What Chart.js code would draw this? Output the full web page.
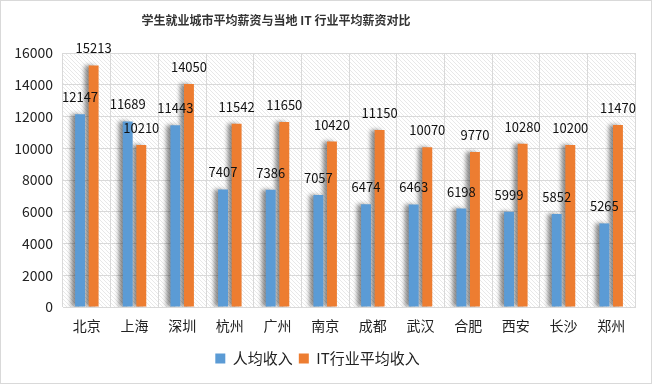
<!DOCTYPE html>
<html>
<head>
<meta charset="utf-8">
<script src="https://cdn.jsdelivr.net/npm/chart.js@4.4.0/dist/chart.umd.min.js"></script>
<style>
  html, body { margin: 0; padding: 0; background: #fff; }
  #wrap { width: 652px; height: 384px; }
</style>
</head>
<body>
<div id="wrap"><canvas id="chart" width="652" height="384"></canvas></div>
<script>
// DATA
const cities = ["北京", "上海", "深圳", "杭州", "广州", "南京", "成都", "武汉", "合肥", "西安", "长沙", "郑州"];
const avgIncome = [12147, 11689, 11443, 7407, 7386, 7057, 6474, 6463, 6198, 5999, 5852, 5265];
const itIncome = [15213, 10210, 14050, 11542, 11650, 10420, 11150, 10070, 9770, 10280, 10200, 11470];
const seriesNames = ["人均收入", "IT行业平均收入"];
const chartTitle = "学生就业城市平均薪资与当地 IT 行业平均薪资对比";

const FONT = "'Noto Sans CJK SC', 'Noto Sans', sans-serif";

// hatch pattern for plot background
function makeHatch() {
    const c = document.createElement("canvas");
    c.width = 4;
    c.height = 4;
    const g = c.getContext("2d");
    g.fillStyle = "#ffffff";
    g.fillRect(0, 0, 4, 4);
    g.strokeStyle = "rgba(0,0,0,0.09)";
    g.lineWidth = 1;
    g.beginPath();
    g.moveTo(-1, -1);
    g.lineTo(5, 5);
    g.moveTo(3, -1);
    g.lineTo(5, 1);
    g.moveTo(-1, 3);
    g.lineTo(1, 5);
    g.stroke();
    return g.createPattern(c, "repeat");
}

const decor = {
    id: "decor",
    beforeDraw(chart) {
        const { ctx, chartArea: a } = chart;
        ctx.save();
        ctx.fillStyle = makeHatch();
        ctx.fillRect(a.left, a.top, a.right - a.left, a.bottom - a.top);
        ctx.restore();
    },
    beforeDatasetsDraw(chart) {
        const ctx = chart.ctx;
        ctx.save();
        ctx.shadowColor = "rgba(0,0,0,0.45)";
        ctx.shadowOffsetX = -4;
        ctx.shadowOffsetY = 0;
        ctx.shadowBlur = 4;
    },
    afterDatasetsDraw(chart) {
        const ctx = chart.ctx;
        ctx.restore();
        // value labels
        ctx.save();
        ctx.font = "13px " + FONT;
        ctx.fillStyle = "#111";
        ctx.textAlign = "center";
        ctx.textBaseline = "middle";
        chart.data.datasets.forEach((ds, i) => {
            chart.getDatasetMeta(i).data.forEach((bar, j) => {
                ctx.fillText(String(ds.data[j]), bar.x, bar.y - 17);
            });
        });
        ctx.restore();
    },
    afterDraw(chart) {
        const ctx = chart.ctx;
        ctx.save();
        ctx.font = "bold 12px " + FONT;
        ctx.fillStyle = "#333";
        ctx.textAlign = "center";
        ctx.textBaseline = "middle";
        ctx.fillText(chartTitle, 276, 20);
        ctx.strokeStyle = "#d9d9d9";
        ctx.lineWidth = 1;
        ctx.strokeRect(0.5, 0.5, chart.width - 1, chart.height - 1);
        ctx.restore();
    },
};

const ctx = document.getElementById("chart");
const chart = new Chart(ctx, {
    type: "bar",
    data: {
        labels: cities,
        datasets: [
            {
                label: seriesNames[0],
                data: avgIncome,
                backgroundColor: "#5B9BD5",
                categoryPercentage: 0.57,
                barPercentage: 0.73,
            },
            {
                label: seriesNames[1],
                data: itIncome,
                backgroundColor: "#ED7D31",
                categoryPercentage: 0.57,
                barPercentage: 0.73,
            },
        ],
    },
    plugins: [decor],
    options: {
        responsive: false,
        animation: false,
        layout: {
            padding: { top: 53, right: 17, bottom: 8, left: 0 },
        },
        plugins: {
            title: { display: false },
            tooltip: { enabled: false },
            legend: {
                position: "bottom",
                labels: {
                    boxWidth: 10,
                    boxHeight: 10,
                    padding: 6,
                    color: "#222",
                    font: { size: 15, family: FONT },
                },
            },
        },
        scales: {
            x: {
                grid: { color: "#d9d9d9", drawTicks: false },
                border: { color: "#d9d9d9" },
                ticks: {
                    color: "#222",
                    padding: 10,
                    font: { size: 14, family: FONT },
                },
                afterFit(scale) {
                    scale.height = 38;
                },
            },
            y: {
                min: 0,
                max: 16000,
                grid: { color: "#d9d9d9", drawTicks: false },
                border: { display: false },
                ticks: {
                    stepSize: 2000,
                    color: "#222",
                    padding: 10,
                    font: { size: 14, family: FONT },
                    callback: (v) => String(v),
                },
                afterFit(scale) {
                    scale.width = 63;
                },
            },
        },
    },
});
</script>
</body>
</html>
